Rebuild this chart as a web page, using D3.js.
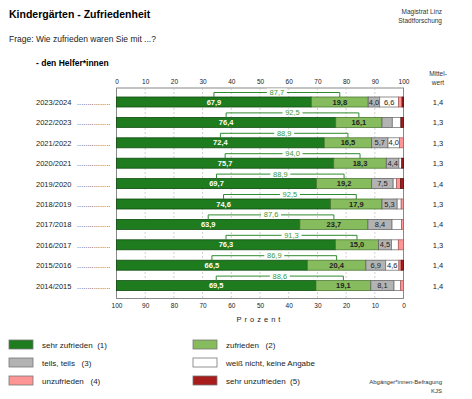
<!DOCTYPE html>
<html lang="de">
<head>
<meta charset="UTF-8">
<title>Kindergärten - Zufriedenheit</title>
<style>
  body { margin: 0; background: #fff; }
  svg { font-family: "Liberation Sans", Arial, sans-serif; }
</style>
</head>
<body>
<div id="chart"></div>
<script src="https://cdn.jsdelivr.net/npm/d3@7"></script>
<script>
// Schuljahre (oben nach unten)
const years = ["2023/2024", "2022/2023", "2021/2022", "2020/2021", "2019/2020",
               "2018/2019", "2017/2018", "2016/2017", "2015/2016", "2014/2015"];
// Anteile in Prozent je Kategorie
const sehrZufrieden  = [67.9, 76.4, 72.4, 75.7, 69.7, 74.6, 63.9, 76.3, 66.5, 69.5];
const zufrieden      = [19.8, 16.1, 16.5, 18.3, 19.2, 17.9, 23.7, 15.0, 20.4, 19.1];
const teilsTeils     = [4.0, 3.6, 5.7, 4.4, 7.5, 5.3, 8.4, 4.5, 6.9, 8.1];
const weissNicht     = [6.6, 3.0, 4.0, 1.0, 1.2, 1.4, 3.3, 2.4, 4.6, 2.3];
const unzufrieden    = [1.2, 0.0, 1.4, 0.0, 1.4, 0.8, 0.7, 1.8, 0.8, 1.0];
const sehrUnzufrieden = [0.5, 0.9, 0.0, 0.6, 1.0, 0.0, 0.0, 0.0, 0.8, 0.0];
// Summe (1)+(2) wie im Bild angegeben
const topTwo   = [87.7, 92.5, 88.9, 94.0, 88.9, 92.5, 87.6, 91.3, 86.9, 88.6];
const mittelwert = ["1,4", "1,3", "1,3", "1,3", "1,4", "1,3", "1,4", "1,3", "1,4", "1,4"];
// Labels nur in ausreichend breiten Segmenten
const showLabel = [
  [true, true, true, true],
  [true, true, false, false],
  [true, true, true, true],
  [true, true, true, false],
  [true, true, true, false],
  [true, true, true, false],
  [true, true, true, false],
  [true, true, true, false],
  [true, true, true, true],
  [true, true, true, false]
];
const ticks = [0, 10, 20, 30, 40, 50, 60, 70, 80, 90, 100];

const categories = [
  { name: "sehr zufrieden  (1)", values: sehrZufrieden, fill: "#1e7b1e", stroke: "#134d13", text: "#fff" },
  { name: "zufrieden   (2)", values: zufrieden, fill: "#86bb5e", stroke: "#4f7a35", text: "#222" },
  { name: "teils, teils   (3)", values: teilsTeils, fill: "#b3b3b3", stroke: "#666", text: "#222" },
  { name: "weiß nicht, keine Angabe", values: weissNicht, fill: "#ffffff", stroke: "#777", text: "#222" },
  { name: "unzufrieden   (4)", values: unzufrieden, fill: "#ff9595", stroke: "#b06060", text: "#222" },
  { name: "sehr unzufrieden  (5)", values: sehrUnzufrieden, fill: "#a81c1c", stroke: "#5a0e0e", text: "#fff" }
];

const W = 472, H = 399;
const svg = d3.select("#chart").append("svg")
  .attr("width", W).attr("height", H);

const x = d3.scaleLinear().domain([0, 100]).range([116.5, 403.5]);
const xRev = d3.scaleLinear().domain([100, 0]).range([116.5, 403.5]);
const frameTop = 88, frameBottom = 298.5;
const rowStep = 20.4, barOff = 9, barH = 10;
const y = d3.scaleBand().domain(years)
  .range([frameTop, frameTop + rowStep * years.length]).paddingInner(0).paddingOuter(0);

// Kopfzeilen
svg.append("text").attr("x", 9).attr("y", 18)
  .attr("font-size", 10.5).attr("font-weight", "bold").text("Kindergärten - Zufriedenheit");
svg.append("text").attr("x", 442).attr("y", 14).attr("text-anchor", "end")
  .attr("font-size", 6.5).attr("fill", "#333").text("Magistrat Linz");
svg.append("text").attr("x", 442).attr("y", 23).attr("text-anchor", "end")
  .attr("font-size", 6.5).attr("fill", "#333").text("Stadtforschung");
svg.append("text").attr("x", 9).attr("y", 42)
  .attr("font-size", 8.5).attr("fill", "#222").text("Frage: Wie zufrieden waren Sie mit ...?");
svg.append("text").attr("x", 36).attr("y", 66)
  .attr("font-size", 8.5).attr("font-weight", "bold").text("- den Helfer*innen");
svg.append("text").attr("x", 438).attr("y", 76).attr("text-anchor", "middle")
  .attr("font-size", 6.5).attr("fill", "#333").text("Mittel-");
svg.append("text").attr("x", 438).attr("y", 85).attr("text-anchor", "middle")
  .attr("font-size", 6.5).attr("fill", "#333").text("wert");

// Achsen oben und unten
const topAxis = svg.append("g").attr("transform", `translate(0,${frameTop})`)
  .call(d3.axisTop(x).tickValues(ticks).tickSize(0).tickPadding(4));
const botAxis = svg.append("g").attr("transform", `translate(0,${frameBottom})`)
  .call(d3.axisBottom(xRev).tickValues(ticks).tickSize(0).tickPadding(5));
[topAxis, botAxis].forEach(a => {
  a.attr("color", "#222").attr("font-family", null).attr("font-size", null);
  a.select(".domain").remove();
  a.selectAll("text").attr("font-size", 6.5).style("fill", "#222");
});

svg.append("text").attr("x", 260).attr("y", 322).attr("text-anchor", "middle")
  .attr("font-size", 7.5).attr("letter-spacing", 3).attr("fill", "#222").text("Prozent");

// Rahmen + Gitterlinien
svg.append("rect").attr("x", x(0)).attr("y", frameTop)
  .attr("width", x(100) - x(0)).attr("height", frameBottom - frameTop)
  .attr("fill", "#fff").attr("stroke", "#888").attr("stroke-width", 1);
svg.append("g").selectAll("line").data(ticks.slice(1, -1)).join("line")
  .attr("x1", d => x(d)).attr("x2", d => x(d))
  .attr("y1", frameTop).attr("y2", frameBottom)
  .attr("stroke", "#bbb").attr("stroke-width", 0.7).attr("stroke-dasharray", "2,2");

// Balken
const rows = svg.append("g").selectAll("g").data(years).join("g")
  .attr("transform", d => `translate(0,${y(d)})`);

rows.each(function (yr, i) {
  const g = d3.select(this);
  let cum = 0;
  categories.forEach((c, k) => {
    const v = c.values[i];
    const x0 = cum;
    cum += v;
    if (v <= 0) return;
    g.append("rect")
      .attr("x", x(x0)).attr("y", barOff)
      .attr("width", x(x0 + v) - x(x0)).attr("height", barH)
      .attr("fill", c.fill).attr("stroke", c.stroke).attr("stroke-width", 0.8);
    if (k < 4 && showLabel[i][k]) {
      g.append("text")
        .attr("x", x(x0 + v / 2)).attr("y", barOff + barH / 2 + 2.6)
        .attr("text-anchor", "middle").attr("font-size", 7.5)
        .attr("font-weight", k < 2 ? "bold" : "normal")
        .attr("fill", c.text).text(d3.format(".1f")(v).replace(".", ","));
    }
  });

  // Klammer für (1)+(2)
  const a = x(sehrZufrieden[i] / 2);
  const b = x(sehrZufrieden[i] + zufrieden[i] / 2);
  const by = barOff - 4.5;
  g.append("path")
    .attr("d", `M${a},${barOff} V${by} H${b} V${barOff}`)
    .attr("fill", "none").attr("stroke", "#2e8b2e").attr("stroke-width", 1);
  const lbl = d3.format(".1f")(topTwo[i]).replace(".", ",");
  g.append("rect").attr("x", (a + b) / 2 - 10).attr("y", by - 4)
    .attr("width", 20).attr("height", 7.5).attr("fill", "#fff");
  g.append("text").attr("x", (a + b) / 2).attr("y", by + 2.6)
    .attr("text-anchor", "middle").attr("font-size", 7.5).attr("fill", "#3a9a3a").text(lbl);

  // Jahreslabel und Mittelwert
  g.append("text").attr("x", 36).attr("y", barOff + barH / 2 + 3)
    .attr("font-size", 7.5).attr("fill", "#222").text(yr);
  g.append("text").attr("x", 77).attr("y", barOff + barH / 2 + 3)
    .attr("font-size", 7.5).attr("fill", "#444").text("................");
  g.append("text").attr("x", 438).attr("y", barOff + barH / 2 + 3)
    .attr("text-anchor", "middle").attr("font-size", 7.5).attr("fill", "#222").text(mittelwert[i]);
});

// Legende
const legendOrder = [0, 1, 2, 3, 4, 5];
const leg = svg.append("g").selectAll("g").data(legendOrder).join("g")
  .attr("transform", k => `translate(${k % 2 === 0 ? 9 : 193},${340 + Math.floor(k / 2) * 18})`);
leg.append("rect").attr("width", 24).attr("height", 9)
  .attr("fill", k => categories[k].fill).attr("stroke", "#777").attr("stroke-width", 0.8);
leg.append("text").attr("x", 33).attr("y", 8)
  .attr("font-size", 8).attr("fill", "#222")
  .style("white-space", "pre").text(k => categories[k].name);

svg.append("text").attr("x", 442).attr("y", 384).attr("text-anchor", "end")
  .attr("font-size", 6).attr("fill", "#333").text("Abgänger*innen-Befragung");
svg.append("text").attr("x", 442).attr("y", 393).attr("text-anchor", "end")
  .attr("font-size", 6).attr("fill", "#333").text("KJS");
</script>
</body>
</html>
